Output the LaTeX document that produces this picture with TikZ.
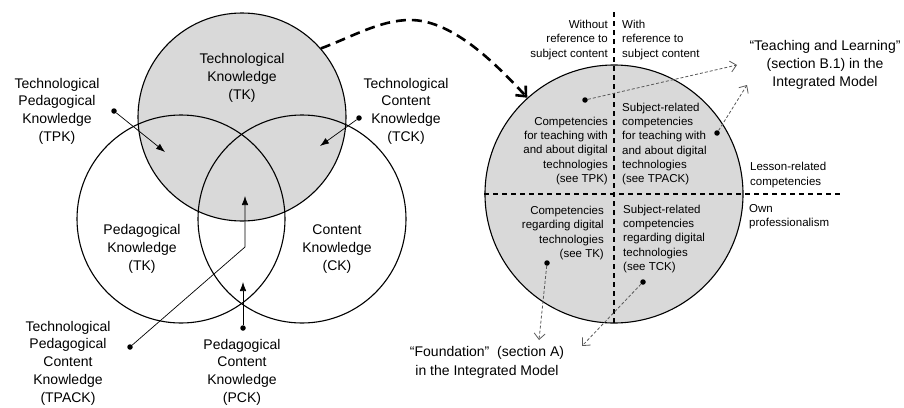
\documentclass[tikz,border=0pt]{standalone}
\usepackage{fontspec}
\setmainfont{Liberation Sans}
\usetikzlibrary{arrows.meta}

\begin{document}
\begin{tikzpicture}[x=1pt, y=-1pt, every node/.style={inner sep=0pt},
		ring/.style={circle, draw, line width=1.1pt, minimum size=208pt},
		blob/.style={circle, fill=black, minimum size=5.5pt},
		lbl/.style={align=center, font=\fontsize{14}{17.7}\selectfont},
		small/.style={font=\fontsize{11.5}{14.3}\selectfont},
		pointer/.style={line width=0.7pt, -{Latex[length=9pt,width=6.5pt]}},
		hint/.style={draw=black!65, line width=0.8pt, dash pattern=on 3pt off 2pt, -{Straight Barb[length=6pt,width=11pt]}},
		divider/.style={line width=1.2pt, dash pattern=on 5pt off 4pt}]
		\useasboundingbox (0,0) rectangle (904,407);
		\node[ring, fill=black!15] (tkc) at (242,117) {};
		\node[ring] (pkc) at (181,219) {};
		\node[ring] (ckc) at (302,219) {};
		\node[lbl] (tk) at (242,78) {Technological\\Knowledge\\(TK)};
		\node[lbl] (tpk) at (57,111) {Technological\\Pedagogical\\Knowledge\\(TPK)};
		\node[lbl] (tck) at (406,111) {Technological\\Content\\Knowledge\\(TCK)};
		\node[lbl] (pk) at (142,249) {Pedagogical\\Knowledge\\(TK)};
		\node[lbl] (ck) at (337,249) {Content\\Knowledge\\(CK)};
		\node[lbl] (tpack) at (68,363) {Technological\\Pedagogical\\Content\\Knowledge\\(TPACK)};
		\node[lbl] (pck) at (242,372) {Pedagogical\\Content\\Knowledge\\(PCK)};
		\node[blob] (tpkdot) at (114,111) {};
		\node[blob] (tckdot) at (359,118) {};
		\node[blob] (tpackdot) at (130,347) {};
		\node[blob] (pckdot) at (243,328) {};
		\coordinate (tpktip) at (165,152);
		\coordinate (tcktip) at (320,146);
		\coordinate (tpackbend) at (245,247);
		\coordinate (tpacktip) at (245,196);
		\coordinate (pcktip) at (243,282);
		\draw[pointer] (tpkdot) -- (tpktip);
		\draw[pointer] (tckdot) -- (tcktip);
		\draw[pointer] (tpackdot) -- (tpackbend) -- (tpacktip);
		\draw[pointer] (pckdot) -- (pcktip);
		\node[ring, minimum size=258pt, fill=black!15] (dig) at (614,194) {};
		\coordinate (vtop) at (614,12);
		\coordinate (hend) at (842,194);
		\draw[divider] (vtop) -- (dig.south);
		\draw[divider] (dig.west) -- (hend);
		\coordinate (arcpeak) at (410,20);
		\draw[line width=2.6pt, dash pattern=on 10pt off 6pt, -{Straight Barb[length=8pt,width=14pt]}] (tkc.41) .. controls +(30,-11) and +(-30,0) .. (arcpeak) .. controls +(40,0) and +(-37,-40) .. (dig.132);
		\node[small, align=right, anchor=east] (without) at (608,40) {Without\\reference to\\subject content};
		\node[small, align=left, anchor=west] (with) at (622,40) {With\\reference to\\subject content};
		\node[small, align=right, anchor=east] (tpkcomp) at (608,151) {Competencies\\for teaching with\\and about digital\\technologies\\(see TPK)};
		\node[small, align=left, anchor=west] (tpackcomp) at (622,144) {Subject-related\\competencies\\for teaching with\\and about digital\\technologies\\(see TPACK)};
		\node[small, align=left, anchor=west] (lesson) at (750,175) {Lesson-related\\competencies};
		\node[small, align=left, anchor=west] (own) at (749,217) {Own\\professionalism};
		\node[small, align=right, anchor=east] (tkcomp) at (604,233) {Competencies\\regarding digital\\technologies\\(see TK)};
		\node[small, align=left, anchor=west] (tckcomp) at (623,239) {Subject-related\\competencies\\regarding digital\\technologies\\(see TCK)};
		\node[lbl, font=\fontsize{14}{18}\selectfont] (teach) at (825,65) {“Teaching and Learning”\\(section B.1) in the\\Integrated Model};
		\node[lbl, font=\fontsize{14}{19}\selectfont] (found) at (487,362) {“Foundation”~~(section A)\\in the Integrated Model};
		\node[blob] (teachdot) at (585,100) {};
		\node[blob] (subjdot) at (717,133) {};
		\node[blob] (founddot) at (547,263) {};
		\node[blob] (tckcompdot) at (643,282) {};
		\coordinate (teachtip) at (737,65);
		\coordinate (subjtip) at (747,85);
		\coordinate (foundtip) at (539,340);
		\coordinate (tckcomptip) at (582,346);
		\draw[hint] (teachdot) -- (teachtip);
		\draw[hint] (subjdot) -- (subjtip);
		\draw[hint] (founddot) -- (foundtip);
		\draw[hint] (tckcompdot) -- (tckcomptip);
	\end{tikzpicture}
\end{document}
